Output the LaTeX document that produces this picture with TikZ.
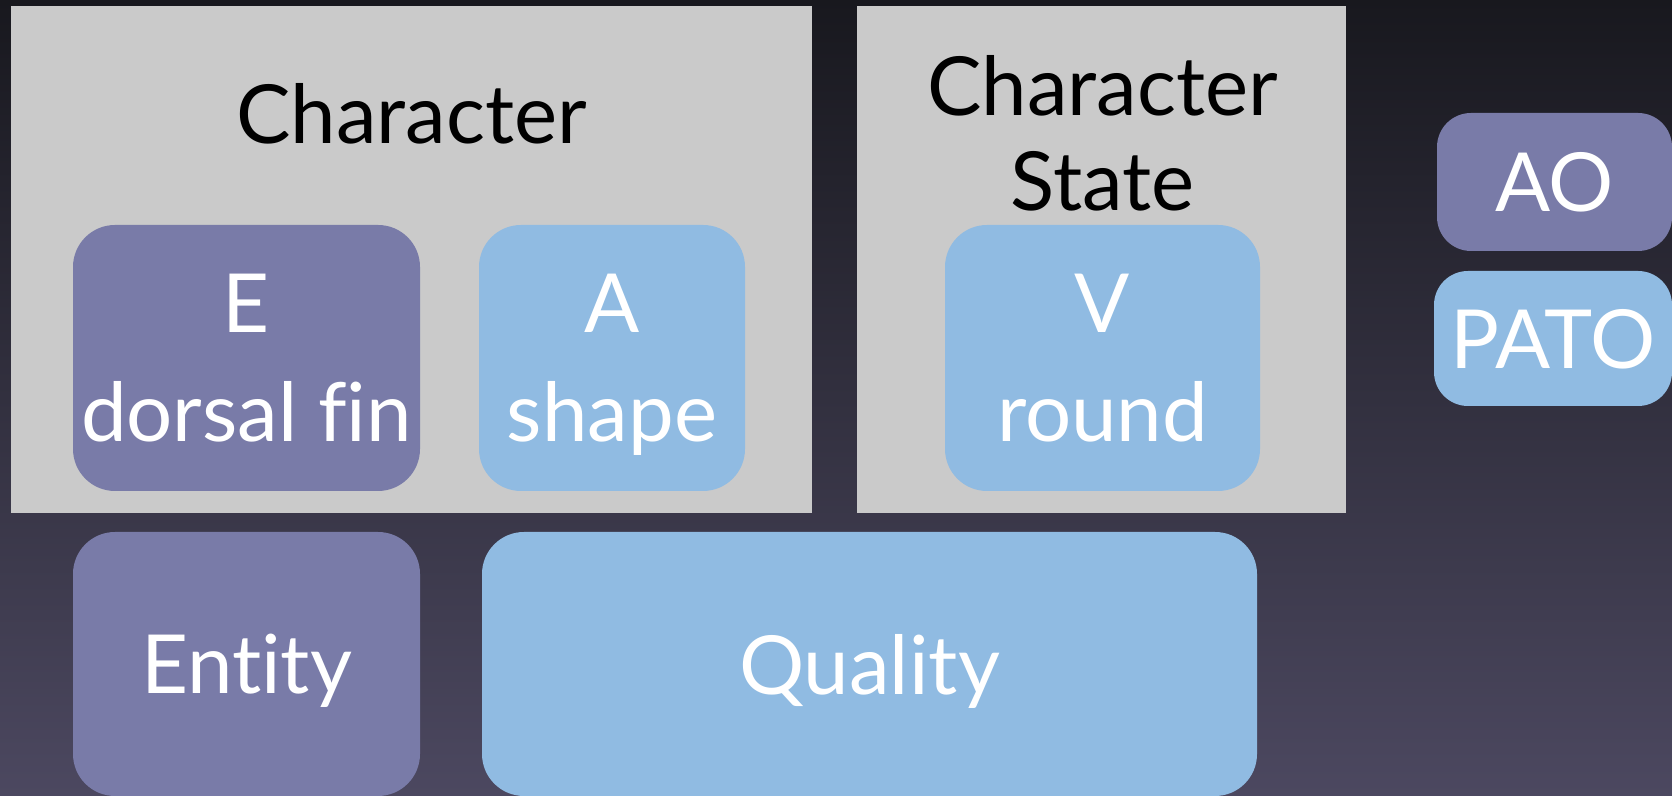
\documentclass[tikz,border=0pt]{standalone}
\usepackage{fontspec}
\setmainfont[Ligatures=NoCommon]{Lato}
\definecolor{panelgray}{HTML}{CACACA}
\definecolor{entpurple}{HTML}{797BA8}
\definecolor{qualblue}{HTML}{90BBE2}
\definecolor{bgtop}{HTML}{18181E}
\definecolor{bgbottom}{HTML}{4C4860}
\tikzset{
panel/.style={
	  fill=panelgray, inner sep=0pt, minimum height=12.675cm},
term/.style={
	  rectangle, rounded corners=1.05cm, inner sep=0pt, text=white,
	  align=center, text depth=0pt, font=\fontsize{58}{77.6}\selectfont},
entbox/.style={term, fill=entpurple},
qualbox/.style={term, fill=qualblue},
title/.style={
	  anchor=north, inner sep=0pt, align=center, text depth=0pt,
	  font=\fontsize{58}{67.6}\selectfont}
}

\begin{document}
\begin{tikzpicture}
	\shade[top color=bgtop, bottom color=bgbottom] (0,0) rectangle (41.8,19.9);
	% character and its state
	\node[panel, minimum width=20.03cm] (char) at (10.285,13.4125) {};
	\node[panel, minimum width=12.225cm] (charstate) at (27.5375,13.4125) {};
	\node[title] (chartitle) at (10.285,17.825) {Character};
	\node[title] (statetitle) at (27.56,18.525) {Character\\State};
	\node[entbox, minimum width=8.675cm, minimum height=6.65cm] (e) at (6.1625,10.95) {E\\dorsal fin};
	\node[qualbox, minimum width=6.65cm, minimum height=6.65cm] (a) at (15.3,10.95) {A\\shape};
	\node[qualbox, minimum width=7.875cm, minimum height=6.65cm] (v) at (27.5625,10.95) {V\\round};
	% entity and quality
	\node[entbox, minimum width=8.675cm, minimum height=6.6cm] (entity) at (6.1625,3.3) {Entity};
	\node[qualbox, minimum width=19.375cm, minimum height=6.6cm] (quality) at (21.7375,3.3) {Quality};
	% ontologies
	\node[entbox, rounded corners=0.85cm, minimum width=5.875cm, minimum height=3.45cm] (ao) at (38.8625,15.35) {AO};
	\node[qualbox, rounded corners=0.85cm, minimum width=5.95cm, minimum height=3.375cm] (pato) at (38.825,11.4375) {PATO};
\end{tikzpicture}
\end{document}
